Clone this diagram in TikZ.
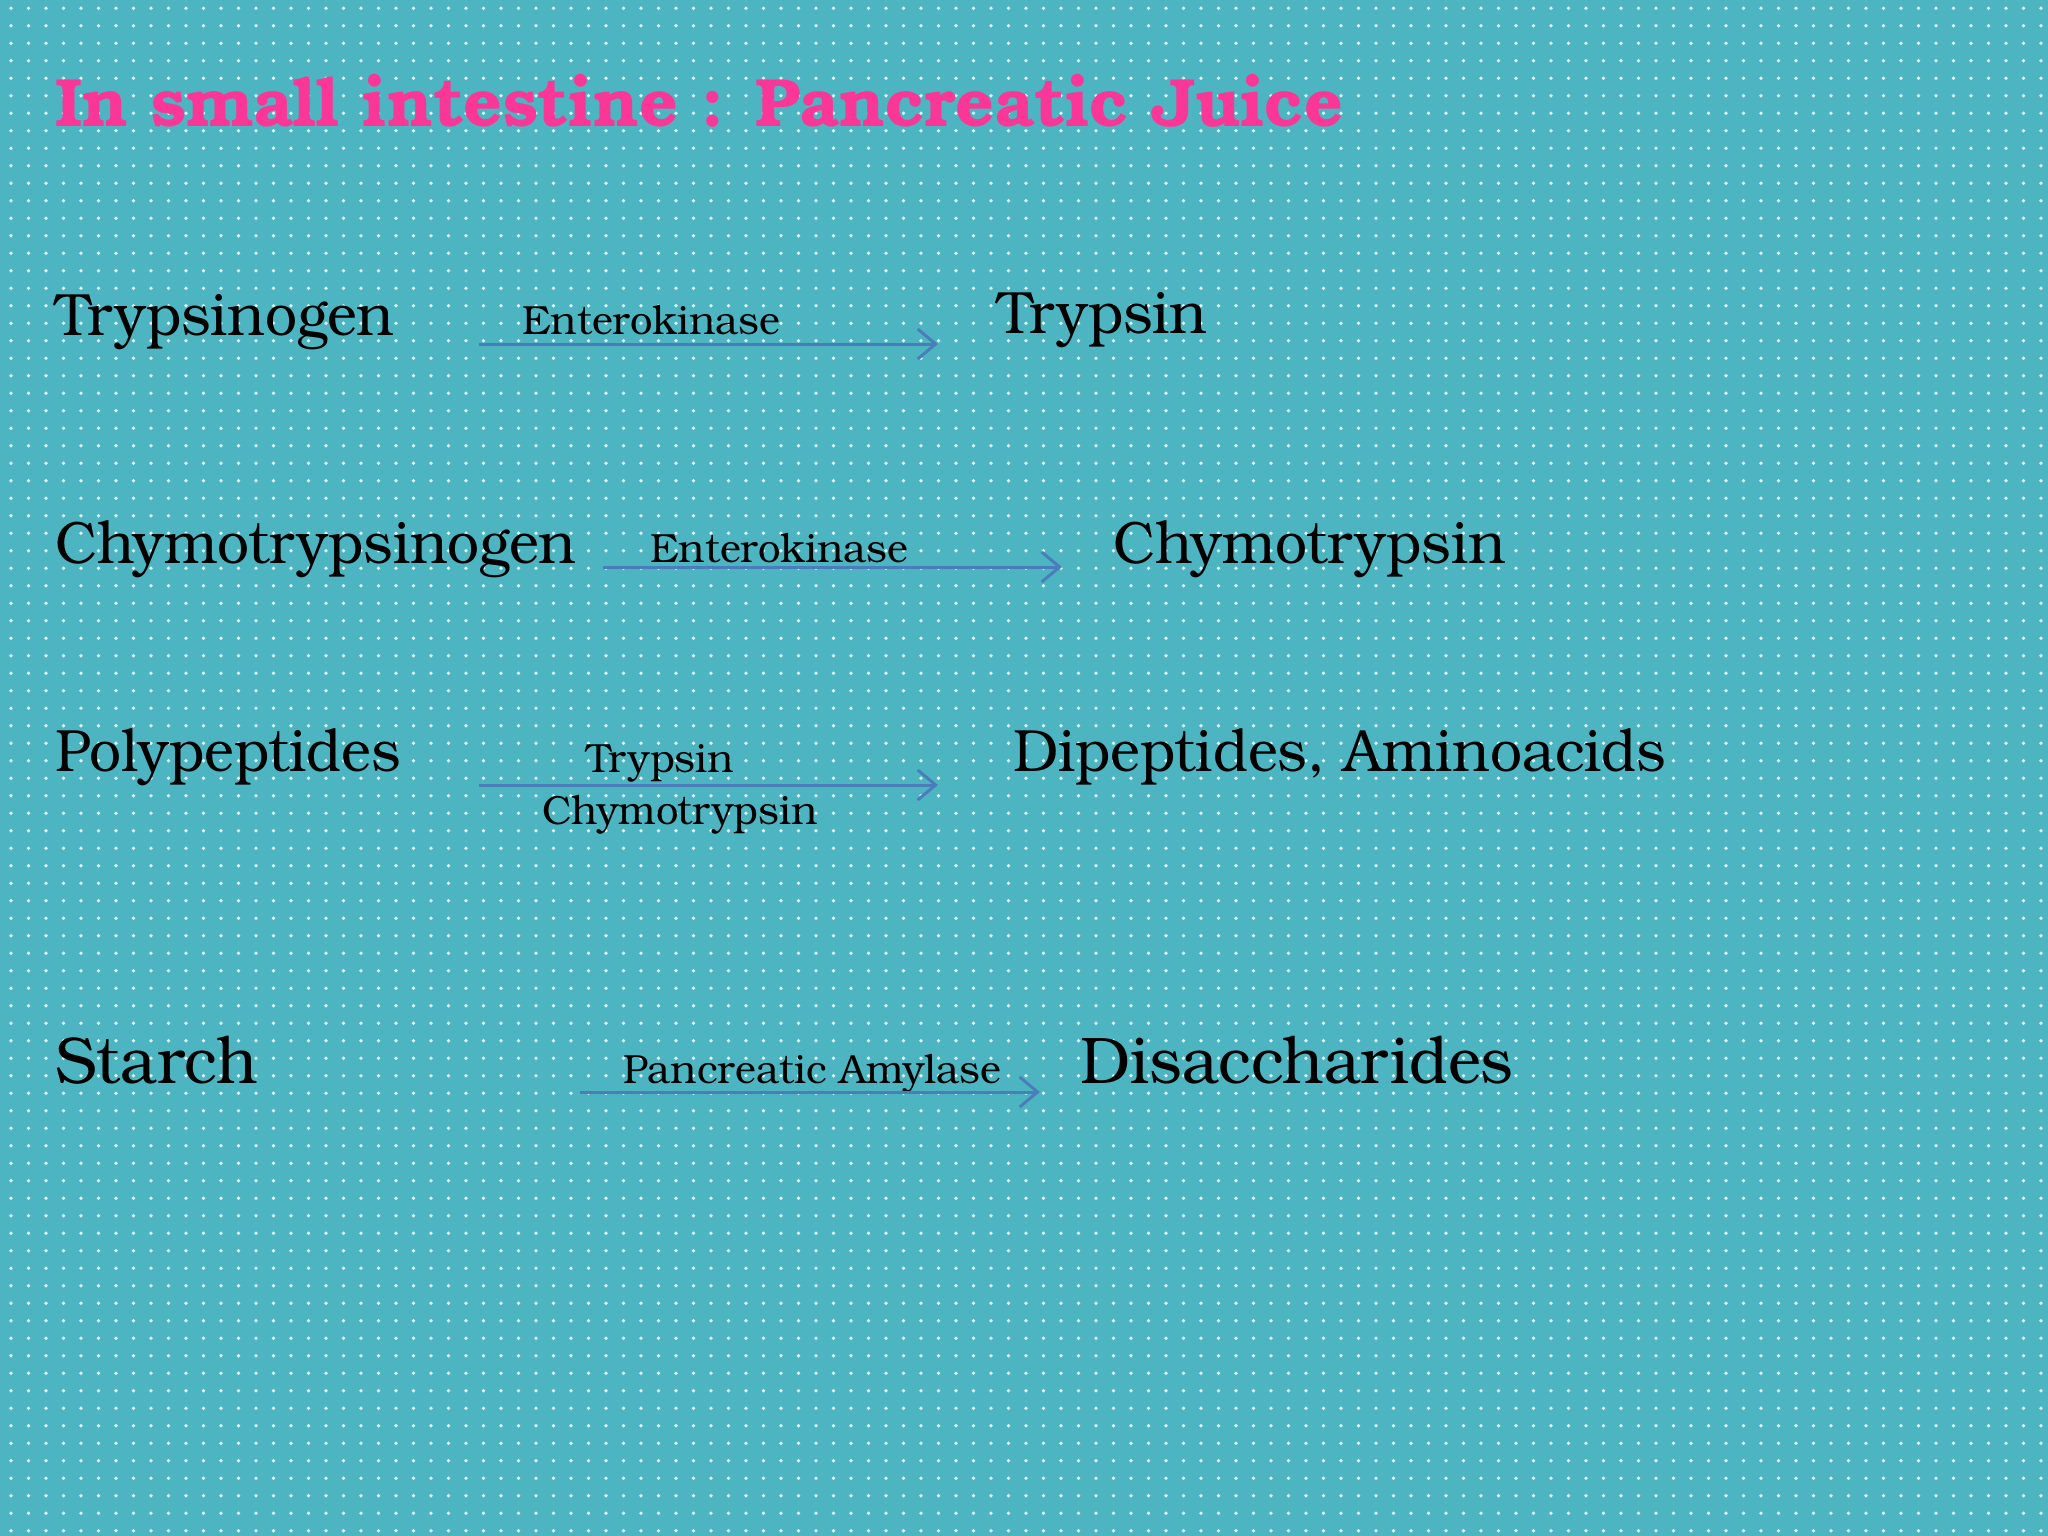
\documentclass[tikz,border=0pt]{standalone}
\usepackage{fontspec}
\setmainfont{TeX Gyre Bonum}
\newfontfamily\bigfont[FakeStretch=0.952]{TeX Gyre Bonum}
\newfontfamily\smallfont[FakeStretch=0.98]{TeX Gyre Bonum}
\newfontfamily\titlefont[FakeStretch=0.992]{TeX Gyre Bonum}
\usetikzlibrary{arrows.meta}
\definecolor{bgteal}{RGB}{76,181,193}
\definecolor{titlepink}{RGB}{250,55,150}
\definecolor{arrowblue}{RGB}{74,126,187}
\definecolor{dotcol}{RGB}{225,245,246}
\tikzset{
  bigtxt/.style={anchor=base west,inner sep=0pt,font=\bigfont\fontsize{59.7}{72}\selectfont,text=black},
  hugetxt/.style={anchor=base west,inner sep=0pt,font=\bigfont\fontsize{66}{78}\selectfont,text=black},
  smalltxt/.style={anchor=base west,inner sep=0pt,font=\smallfont\fontsize{40.7}{48}\selectfont,text=black},
  titletxt/.style={anchor=base west,inner sep=0pt,font=\titlefont\fontsize{68.3}{80}\selectfont\bfseries,text=titlepink},
  arr/.style={draw=arrowblue,line width=3pt,-{Straight Barb[length=18pt,width=30pt,line width=3pt]}},
  dotrow/.style={draw=dotcol,line width=3.8pt,line cap=round,dash pattern=on 0pt off 17.5pt}
}
\begin{document}
\begin{tikzpicture}[x=1pt,y=-1pt]
\fill[bgteal] (0,0) rectangle (2048,1536);
\useasboundingbox (0,0) rectangle (2048,1536);
\foreach \r in {0,...,87}{
  \draw[dotrow] (11,{8.3+17.5*\r}) -- (2048,{8.3+17.5*\r});
}
% title
\node[titletxt] (title) at (55,127) {In small intestine : Pancreatic Juice};
% row 1
\node[bigtxt] (tgen) at (55,335) {Trypsinogen};
\node[smalltxt] (ek1) at (522,334) {Enterokinase};
\node[bigtxt] (tryp) at (997,333) {Trypsin};
\coordinate (a1s) at (479,344);
\coordinate (a1e) at (938,344);
\draw[arr] (a1s) -- (a1e);
% row 2
\node[bigtxt] (ctgen) at (55,563) {Chymotrypsinogen};
\node[smalltxt] (ek2) at (650,562) {Enterokinase};
\node[bigtxt] (ctryp) at (1113,563) {Chymotrypsin};
\coordinate (a2s) at (603,567);
\coordinate (a2e) at (1062,567);
\draw[arr] (a2s) -- (a2e);
% row 3
\node[bigtxt] (poly) at (55,771) {Polypeptides};
\node[smalltxt] (tl) at (586,772) {Trypsin};
\node[smalltxt] (cl) at (542,824) {Chymotrypsin};
\node[bigtxt] (dip) at (1013,771) {Dipeptides, Aminoacids};
\coordinate (a3s) at (479,785);
\coordinate (a3e) at (938,785);
\draw[arr] (a3s) -- (a3e);
% row 4
\node[hugetxt] (starch) at (55,1083) {Starch};
\node[smalltxt] (pa) at (623,1083) {Pancreatic Amylase};
\node[hugetxt] (disac) at (1080,1083) {Disaccharides};
\coordinate (a4s) at (580,1092);
\coordinate (a4e) at (1040,1092);
\draw[arr] (a4s) -- (a4e);
\end{tikzpicture}
\end{document}
